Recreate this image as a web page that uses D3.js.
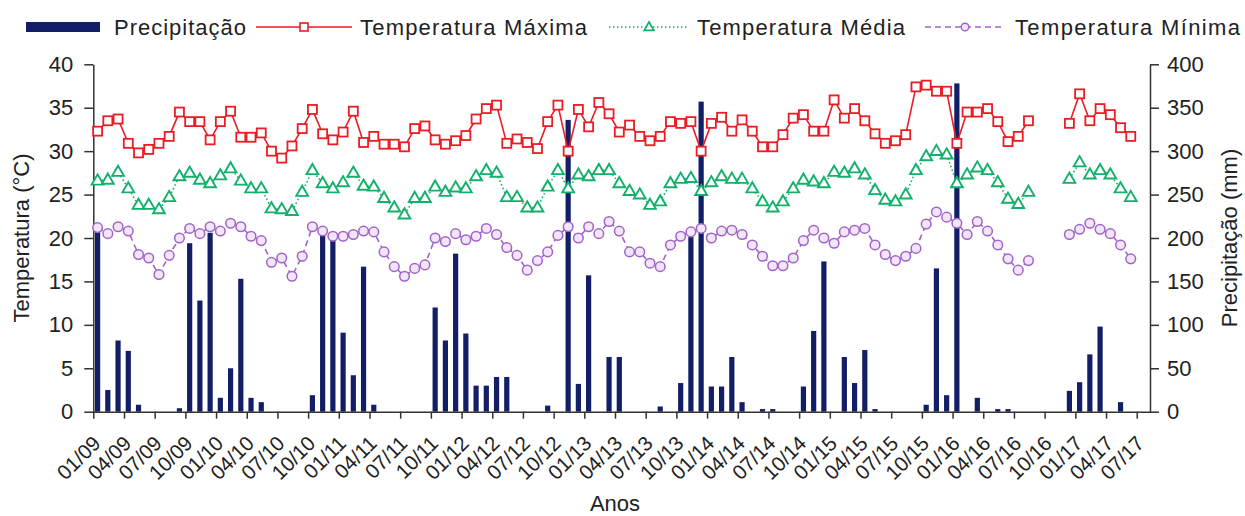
<!DOCTYPE html>
<html>
<head>
<meta charset="utf-8">
<script src="https://cdn.jsdelivr.net/npm/d3@7"></script>
<style>
  body { margin: 0; background: #fff; }
  text { font-family: "Liberation Sans", Arial, sans-serif; fill: #222; }
  .axis path, .axis line { stroke: #333; stroke-width: 1.5; }
</style>
</head>
<body>
<div class="chart"></div>
<script>
// Monthly climate data 01/2009 - 06/2017 (gap 09/16 - 11/16)
// ==============================================================
var months = [
  "01/09","02/09","03/09","04/09","05/09","06/09","07/09","08/09","09/09","10/09","11/09","12/09",
  "01/10","02/10","03/10","04/10","05/10","06/10","07/10","08/10","09/10","10/10","11/10","12/10",
  "01/11","02/11","03/11","04/11","05/11","06/11","07/11","08/11","09/11","10/11","11/11","12/11",
  "01/12","02/12","03/12","04/12","05/12","06/12","07/12","08/12","09/12","10/12","11/12","12/12",
  "01/13","02/13","03/13","04/13","05/13","06/13","07/13","08/13","09/13","10/13","11/13","12/13",
  "01/14","02/14","03/14","04/14","05/14","06/14","07/14","08/14","09/14","10/14","11/14","12/14",
  "01/15","02/15","03/15","04/15","05/15","06/15","07/15","08/15","09/15","10/15","11/15","12/15",
  "01/16","02/16","03/16","04/16","05/16","06/16","07/16","08/16","09/16","10/16","11/16","12/16",
  "01/17","02/17","03/17","04/17","05/17","06/17"
];

var precipitacao = [
  213, 25, 82, 70, 8, 0, 0, 0, 4, 194, 128, 206,
  16, 50, 153, 16, 11, 0, 0, 0, 0, 19, 203, 201,
  91, 42, 167, 8, 0, 0, 0, 0, 0, 120, 82, 182,
  90, 30, 30, 40, 40, 0, 0, 0, 7, 0, 336, 32,
  157, 0, 63, 63, 0, 0, 0, 6, 0, 33, 201, 357,
  29, 29, 63, 11, 0, 3, 3, 0, 0, 29, 93, 173,
  0, 63, 33, 71, 3, 0, 0, 0, 0, 8, 165, 19,
  378, 0, 16, 0, 3, 3, 0, 0, null, null, null, 24,
  34, 66, 98, 0, 11, 0
];

var tempMaxima = [
  32.3, 33.5, 33.7, 30.9, 29.8, 30.2, 30.9, 31.7, 34.5, 33.4, 33.4, 31.3,
  33.4, 34.6, 31.6, 31.6, 32.1, 30.0, 29.2, 30.6, 32.6, 34.8, 32.0, 31.3,
  32.2, 34.6, 31.0, 31.7, 30.8, 30.8, 30.5, 32.6, 32.9, 31.3, 30.8, 31.2,
  31.8, 33.7, 34.9, 35.3, 30.9, 31.4, 31.0, 30.3, 33.4, 35.3, 30.0, 34.8,
  32.8, 35.6, 34.3, 32.2, 33.0, 31.7, 31.2, 31.7, 33.4, 33.2, 33.4, 30.0,
  33.2, 33.9, 32.3, 33.6, 32.3, 30.5, 30.5, 31.9, 33.8, 34.2, 32.3, 32.3,
  35.9, 33.8, 34.9, 33.5, 32.0, 30.9, 31.2, 31.9, 37.4, 37.6, 36.9, 36.9,
  30.9, 34.5, 34.5, 34.9, 33.4, 31.1, 31.7, 33.5, null, null, null, 33.2,
  36.6, 33.5, 34.9, 34.2, 32.7, 31.7
];

var tempMedia = [
  26.6, 26.7, 27.6, 25.7, 23.8, 23.8, 23.3, 24.7, 27.1, 27.5, 26.7, 26.3,
  27.2, 28.0, 26.6, 25.7, 25.7, 23.4, 23.3, 23.1, 25.3, 27.8, 26.3, 25.7,
  26.4, 27.5, 26.0, 25.9, 24.6, 23.5, 22.7, 24.6, 24.6, 25.9, 25.3, 25.8,
  25.7, 27.1, 27.8, 27.5, 24.7, 24.7, 23.5, 23.5, 25.9, 27.8, 25.7, 27.3,
  27.1, 27.8, 27.8, 26.3, 25.4, 25.0, 23.8, 24.2, 26.3, 26.8, 26.9, 25.4,
  26.4, 27.1, 26.8, 26.8, 25.7, 24.2, 23.5, 24.2, 25.7, 26.7, 26.5, 26.3,
  27.6, 27.5, 28.0, 27.3, 25.5, 24.4, 24.2, 25.0, 27.8, 29.4, 30.0, 29.6,
  26.3, 27.3, 28.1, 27.8, 26.4, 24.5, 23.9, 25.3, null, null, null, 26.8,
  28.7, 27.3, 27.8, 27.3, 25.7, 24.7
];

var tempMinima = [
  21.2, 20.5, 21.3, 20.8, 18.1, 17.7, 15.8, 18.0, 20.0, 21.1, 20.5, 21.3,
  20.8, 21.7, 21.3, 20.2, 19.7, 17.2, 17.7, 15.6, 17.9, 21.3, 20.8, 20.2,
  20.2, 20.4, 20.8, 20.7, 18.4, 16.7, 15.6, 16.5, 16.9, 20.0, 19.6, 20.5,
  19.8, 20.2, 21.1, 20.4, 18.9, 18.0, 16.3, 17.4, 18.4, 20.3, 21.3, 20.0,
  21.3, 20.5, 21.9, 20.8, 18.4, 18.4, 17.1, 16.7, 19.2, 20.2, 20.7, 21.1,
  20.0, 20.8, 20.9, 20.4, 19.2, 17.9, 16.8, 16.8, 17.7, 19.7, 20.9, 20.0,
  19.4, 20.7, 20.9, 21.1, 19.2, 18.1, 17.4, 17.9, 18.8, 21.6, 23.0, 22.4,
  21.7, 20.4, 21.9, 20.8, 19.2, 17.6, 16.3, 17.4, null, null, null, 20.4,
  21.0, 21.7, 21.0, 20.5, 19.2, 17.6
];

var tickLabels = [
  "01/09","04/09","07/09","10/09","01/10","04/10","07/10","10/10","01/11","04/11","07/11","10/11",
  "01/12","04/12","07/12","10/12","01/13","04/13","07/13","10/13","01/14","04/14","07/14","10/14",
  "01/15","04/15","07/15","10/15","01/16","04/16","07/16","10/16","01/17","04/17","07/17"
];
var tempTicks = [0, 5, 10, 15, 20, 25, 30, 35, 40];
var precTicks = [0, 50, 100, 150, 200, 250, 300, 350, 400];

// Step 1: Set up the chart
// ================================
var svgWidth = 1245;
var svgHeight = 516;
var plot = { left: 93.3, right: 1150, top: 64.3, bottom: 411.7 };

var colors = {
  prec: "#121f66",
  max: "#ea1c24",
  med: "#13b06c",
  min: "#a262c9"
};

var svg = d3.select(".chart")
  .append("svg")
  .attr("width", svgWidth)
  .attr("height", svgHeight);

var data = months.map(function (m, i) {
  return { mes: m, i: i, p: precipitacao[i], tmax: tempMaxima[i], tmed: tempMedia[i], tmin: tempMinima[i] };
});

// Step 2: Scales (months on a linear scale, ticks every 3 months)
// ================================
var xScale = d3.scaleLinear()
  .domain([0, 103.3])
  .range([plot.left, plot.right]);
var xPos = d => xScale(d.i + 0.42);

var yTemp = d3.scaleLinear().domain([0, 40]).range([plot.bottom, plot.top]);
var yPrec = d3.scaleLinear().domain([0, 400]).range([plot.bottom, plot.top]);

// Step 3: Bars (precipitation)
// ================================
svg.append("g").selectAll("rect")
  .data(data.filter(d => d.p))
  .enter()
  .append("rect")
  .attr("x", d => xPos(d) - 2.6)
  .attr("width", 5.2)
  .attr("y", d => yPrec(d.p))
  .attr("height", d => yPrec(0) - yPrec(d.p))
  .attr("fill", colors.prec);

// Step 4: Axes
// ================================
var bottomAxis = d3.axisBottom(xScale)
  .tickValues(tickLabels.map((t, k) => k * 3))
  .tickFormat((d, k) => tickLabels[k])
  .tickSize(7)
  .tickSizeOuter(0);

var xAxisG = svg.append("g")
  .attr("class", "axis")
  .attr("transform", `translate(0, ${plot.bottom})`)
  .call(bottomAxis);
xAxisG.selectAll("text")
  .attr("x", 0).attr("y", 0).attr("dy", 0)
  .attr("text-anchor", "end")
  .attr("transform", "translate(8, 33) rotate(-45)")
  .attr("font-size", 20.5)
  .attr("fill", "#222");

var leftAxis = d3.axisLeft(yTemp).tickValues(tempTicks).tickSize(9).tickPadding(11).tickSizeOuter(0);
svg.append("g")
  .attr("class", "axis")
  .attr("transform", `translate(${plot.left}, 0)`)
  .call(leftAxis)
  .selectAll("text").attr("font-size", 22).attr("fill", "#222");

var rightAxis = d3.axisRight(yPrec).tickValues(precTicks).tickSize(9).tickPadding(8).tickSizeOuter(0);
svg.append("g")
  .attr("class", "axis")
  .attr("transform", `translate(${plot.right}, 0)`)
  .call(rightAxis)
  .selectAll("text").attr("font-size", 22).attr("fill", "#222");

svg.selectAll(".axis text").attr("font-family", "Liberation Sans, Arial, sans-serif");

// Step 5: Temperature lines + markers
// ================================
function drawLine(key, color, dash) {
  var line = d3.line()
    .defined(d => d[key] != null)
    .x(xPos)
    .y(d => yTemp(d[key]));
  svg.append("path")
    .datum(data)
    .attr("d", line)
    .attr("fill", "none")
    .attr("stroke", color)
    .attr("stroke-width", 1.6)
    .attr("stroke-dasharray", dash);
}

drawLine("tmax", colors.max, null);
drawLine("tmed", colors.med, "1.5,2.5");
drawLine("tmin", colors.min, "6,4");

svg.append("g").selectAll("rect")
  .data(data.filter(d => d.tmax != null))
  .enter()
  .append("rect")
  .attr("x", d => xPos(d) - 4.5)
  .attr("y", d => yTemp(d.tmax) - 4.5)
  .attr("width", 9).attr("height", 9)
  .attr("fill", "#fff")
  .attr("stroke", colors.max)
  .attr("stroke-width", 1.8);

var tri = d3.symbol().type(d3.symbolTriangle).size(60);
svg.append("g").selectAll("path")
  .data(data.filter(d => d.tmed != null))
  .enter()
  .append("path")
  .attr("d", tri)
  .attr("transform", d => `translate(${xPos(d)}, ${yTemp(d.tmed) + 0.5})`)
  .attr("fill", "#fff")
  .attr("stroke", colors.med)
  .attr("stroke-width", 1.9);

svg.append("g").selectAll("circle")
  .data(data.filter(d => d.tmin != null))
  .enter()
  .append("circle")
  .attr("cx", xPos)
  .attr("cy", d => yTemp(d.tmin))
  .attr("r", 4.8)
  .attr("fill", "#f1e6f7")
  .attr("stroke", colors.min)
  .attr("stroke-width", 1.5);

// Step 6: Axis titles
// ================================
svg.append("text")
  .attr("transform", `translate(29, ${(plot.top + plot.bottom) / 2}) rotate(-90)`)
  .attr("text-anchor", "middle")
  .attr("font-size", 22)
  .text("Temperatura (°C)");

svg.append("text")
  .attr("transform", `translate(1237, ${(plot.top + plot.bottom) / 2}) rotate(-90)`)
  .attr("text-anchor", "middle")
  .attr("font-size", 22)
  .text("Precipitação (mm)");

svg.append("text")
  .attr("x", 615)
  .attr("y", 511)
  .attr("text-anchor", "middle")
  .attr("font-size", 22)
  .text("Anos");

// Step 7: Legend
// ================================
var legend = svg.append("g");
var ly = 27;

legend.append("rect")
  .attr("x", 26).attr("y", ly - 5).attr("width", 74).attr("height", 10)
  .attr("fill", colors.prec);
legend.append("text").attr("x", 114).attr("y", ly + 8).attr("font-size", 22)
  .attr("textLength", 132).text("Precipitação");

legend.append("line").attr("x1", 256).attr("x2", 352).attr("y1", ly).attr("y2", ly)
  .attr("stroke", colors.max).attr("stroke-width", 1.6);
legend.append("rect").attr("x", 300).attr("y", ly - 4).attr("width", 8).attr("height", 8)
  .attr("fill", "#fff").attr("stroke", colors.max).attr("stroke-width", 1.6);
legend.append("text").attr("x", 360).attr("y", ly + 8).attr("font-size", 22)
  .attr("textLength", 227).text("Temperatura Máxima");

legend.append("line").attr("x1", 609).attr("x2", 688).attr("y1", ly).attr("y2", ly)
  .attr("stroke", colors.med).attr("stroke-width", 1.6).attr("stroke-dasharray", "1.5,2.5");
legend.append("path").attr("d", d3.symbol().type(d3.symbolTriangle).size(40))
  .attr("transform", `translate(649, ${ly + 0.5})`)
  .attr("fill", "#fff").attr("stroke", colors.med).attr("stroke-width", 1.7);
legend.append("text").attr("x", 697).attr("y", ly + 8).attr("font-size", 22)
  .attr("textLength", 208).text("Temperatura Média");

legend.append("line").attr("x1", 925).attr("x2", 1005).attr("y1", ly).attr("y2", ly)
  .attr("stroke", colors.min).attr("stroke-width", 1.6).attr("stroke-dasharray", "6,4");
legend.append("circle").attr("cx", 965).attr("cy", ly).attr("r", 3.8)
  .attr("fill", "#f1e6f7").attr("stroke", colors.min).attr("stroke-width", 1.4);
legend.append("text").attr("x", 1015).attr("y", ly + 8).attr("font-size", 22)
  .attr("textLength", 225).text("Temperatura Mínima");
</script>
</body>
</html>
